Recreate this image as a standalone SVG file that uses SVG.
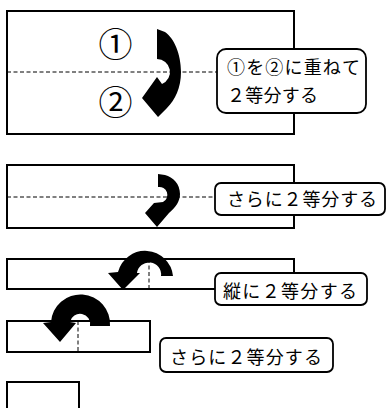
<svg xmlns="http://www.w3.org/2000/svg" width="387" height="408" viewBox="0 0 387 408">
<style>
.sheet{fill:#fff;stroke:#000;stroke-width:2}
.fold{fill:none;stroke:#000;stroke-width:1;stroke-dasharray:4 2.5}
.arrow{fill:#000;stroke:none}
.lbl{fill:#fff;stroke:#000;stroke-width:1.8}
.t{font-family:"Noto Sans CJK JP","Noto Sans",sans-serif;font-size:18px;fill:#000}
.num{font-family:"Noto Sans CJK JP","Noto Sans",sans-serif;font-size:34px;fill:#000;text-anchor:middle}
</style>
<rect width="387" height="408" fill="#fff"/>
<g id="step1">
<rect class="sheet" x="7" y="11" width="287" height="123"/>
<line class="fold" x1="7" y1="72" x2="217" y2="72"/>
<text class="num" x="115.5" y="57">①</text>
<text class="num" x="115.5" y="115">②</text>
</g>
<g id="step2">
<rect class="sheet" x="7" y="165" width="287" height="63"/>
<line class="fold" x1="7" y1="197" x2="215" y2="197"/>
</g>
<g id="step3">
<rect class="sheet" x="7" y="259" width="287" height="30"/>
<line class="fold" x1="149" y1="259" x2="149" y2="289"/>
</g>
<g id="step4">
<rect class="sheet" x="7" y="321" width="143" height="31"/>
<line class="fold" x1="78" y1="321" x2="78" y2="352"/>
</g>
<g id="step5">
<rect class="sheet" x="7" y="382" width="72" height="40"/>
</g>
<g id="connectors">
<path class="arrow" d="M157,29 L157,59 A13,13 0 0 1 162,84 L157,77 L142,98 L158,117 L167,108 C175,100 181,88 181,72 C181,54 174,38 165,32 Z"/>
<path class="arrow" d="M158,174 L158,187 A8,8 0 0 1 163,202 L154,203 L145,213 L157,227 L169,213 C176,207 180,201 180,194 C180,184 173,177 165,175 Z"/>
<path class="arrow" d="M173,276 A28,28 0 0 0 118,272 L108,273 L123,290 L140,273 L137,273 A12,12 0 0 1 161,276 Z"/>
<path class="arrow" d="M110,326 A29,29 0 0 0 51,322 L43,323 L60,342 L76,323 L70,322 A10,10 0 0 1 90,326 Z"/>
</g>
<g id="label1">
<rect class="lbl" x="217" y="49" width="149" height="64" rx="9"/>
<text class="t" x="227" y="74" textLength="133">①を②に重ねて</text>
<text class="t" x="227" y="102" textLength="91">２等分する</text>
</g>
<g id="label2">
<rect class="lbl" x="215" y="183" width="170" height="32" rx="6"/>
<text class="t" x="227" y="206" textLength="150">さらに２等分する</text>
</g>
<g id="label3">
<rect class="lbl" x="215" y="273" width="152" height="32" rx="6"/>
<text class="t" x="223" y="298" textLength="134">縦に２等分する</text>
</g>
<g id="label4">
<rect class="lbl" x="160" y="338" width="173" height="34" rx="6"/>
<text class="t" x="170" y="364" textLength="152">さらに２等分する</text>
</g>
</svg>
